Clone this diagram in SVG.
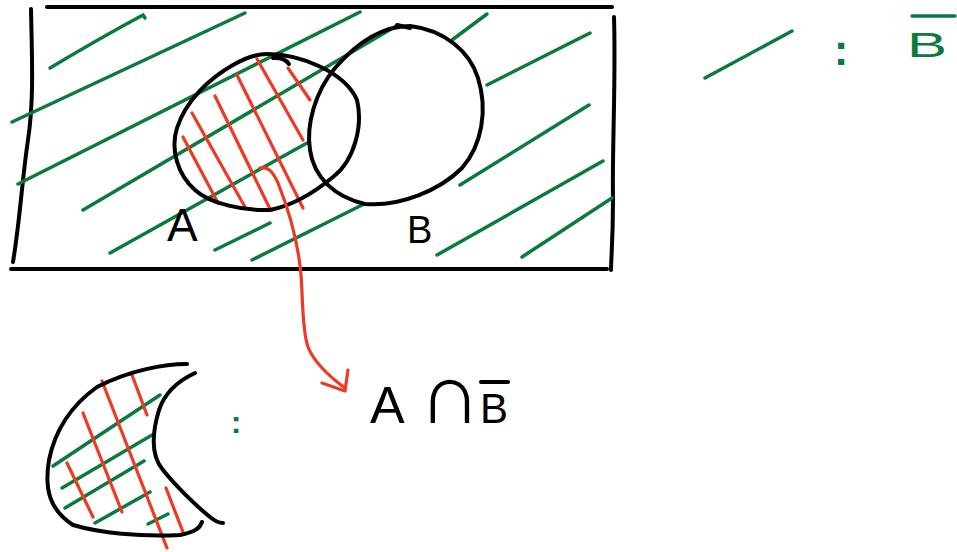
<svg xmlns="http://www.w3.org/2000/svg" width="957" height="552" viewBox="0 0 957 552">
<style>
.k{fill:none;stroke:#000;stroke-width:4;stroke-linecap:round;stroke-linejoin:round}
.g{fill:none;stroke:#0b7a3e;stroke-width:3.5;stroke-linecap:round}
.r{fill:none;stroke:#ee3a24;stroke-width:3.2;stroke-linecap:round;stroke-linejoin:round}
.tk{font-family:"Liberation Sans",Arial,sans-serif;fill:#000}
.tg{font-family:"Liberation Sans",Arial,sans-serif;fill:#0b7a3e}
</style>
<rect width="957" height="552" fill="#fff"/>
<g id="universe">
<path class="k" d="M47,7 L612,7"/>
<path class="k" d="M31,9 C32,60 34,100 28,140 C22,180 20,220 13,262"/>
<path class="k" d="M11,269 L607,269"/>
<path class="k" d="M614,17 C616,80 612,150 613,200 C613,240 611,260 611,270"/>
</g>
<g id="hatch-notB">
<path class="g" d="M50,68 Q100,38 143,15 L145,18"/>
<path class="g" d="M12,122 L245,13"/>
<path class="g" d="M18,184 L360,12"/>
<path class="g" d="M83,210 L398,25"/>
<path class="g" d="M110,253 L307,143"/>
<path class="g" d="M215,250 L270,223"/>
<path class="g" d="M252,260 L362,205"/>
<path class="g" d="M452,40 L487,14"/>
<path class="g" d="M487,85 L590,33"/>
<path class="g" d="M460,185 L589,105"/>
<path class="g" d="M437,255 L603,161"/>
<path class="g" d="M522,257 L612,198"/>
</g>
<g id="hatch-A">
<path class="r" d="M183,137 L218,203"/>
<path class="r" d="M192,113 L245,207"/>
<path class="r" d="M215,96 L270,209"/>
<path class="r" d="M237,75 L303,208"/>
<path class="r" d="M257,59 L303,140"/>
<path class="r" d="M288,68 L310,100"/>
</g>
<g id="setA">
<path class="k" d="M267,54 C300,54 345,72 357,100 C363,125 355,160 333,177 C315,192 295,205 270,210 C245,211 210,204 195,190 C178,175 170,150 177,128 C186,100 210,78 233,65 C245,58 255,54 267,54 Z"/>
<path class="k" d="M273,58 Q284,57 289,64"/>
<text class="tk" x="167" y="241" font-size="46">A</text>
</g>
<g id="setB">
<path class="k" d="M410,26 C380,26 355,45 335,68 C315,92 306,125 310,150 C314,178 335,197 365,204 C400,207 440,190 462,168 C482,145 488,110 478,78 C470,52 445,30 410,26 Z"/>
<path class="k" d="M397,25 L410,28"/>
<text class="tk" x="407" y="243" font-size="38">B</text>
</g>
<g id="legend">
<path class="g" d="M705,78 L792,31" stroke-width="4"/>
<text class="tg" x="841" y="65" font-size="44" font-weight="bold" text-anchor="middle">:</text>
<text class="tg" x="907" y="57" font-size="35" textLength="40" lengthAdjust="spacingAndGlyphs">B</text>
<path class="g" d="M912,16 L955,16"/>
</g>
<g id="result">
<path class="g" d="M53,466 L160,395"/>
<path class="g" d="M62,488 L152,435"/>
<path class="g" d="M65,508 L144,461"/>
<path class="g" d="M95,523 L150,492"/>
<path class="g" d="M148,524 L168,514"/>
<path class="r" d="M102,381 L167,548"/>
<path class="r" d="M83,413 L122,512"/>
<path class="r" d="M67,463 L93,517"/>
<path class="r" d="M132,375 L147,415"/>
<path class="r" d="M166,488 L183,532"/>
<path class="k" d="M187,364 C165,364 130,370 97,387 C72,405 55,430 49,460 C44,490 50,510 73,525 C100,533 140,537 180,535 C195,532 200,528 202,522"/>
<path class="k" d="M195,373 C180,380 165,392 159,410 C153,430 150,455 163,470 C175,485 195,505 210,517 C216,522 220,523 223,523"/>
<text class="tg" x="236" y="433" font-size="32" font-weight="bold" text-anchor="middle">:</text>
</g>
<g id="label-AnotB">
<text class="tk" font-size="52" y="423"><tspan x="370">A</tspan><tspan x="419" font-size="86">∩</tspan><tspan x="480" font-size="42">B</tspan></text>
<path class="k" d="M481,382 L508,382" stroke-width="3.5"/>
</g>
<g id="connectors">
<path class="r" d="M260,168 C268,166 273,172 278,183 C288,208 298,240 301,275 C303,300 302,330 308,347 C314,362 330,377 345,388"/>
<path class="r" d="M322,383 L345,391 L348,370"/>
</g>
</svg>
